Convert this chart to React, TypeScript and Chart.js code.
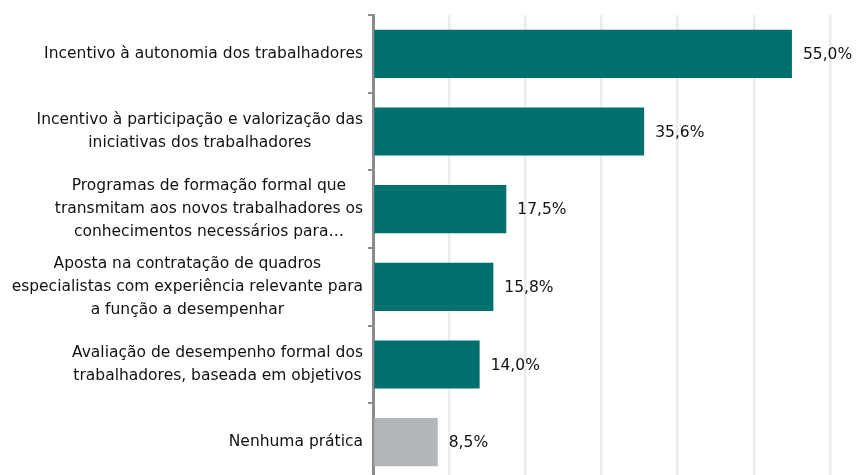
import React, { useEffect, useRef } from "react";
import { Chart, registerables } from "chart.js";

Chart.register(...registerables);

const categories: string[][] = [
  ["Incentivo à autonomia dos trabalhadores"],
  ["Incentivo à participação e valorização das", "iniciativas dos trabalhadores"],
  ["Programas de formação formal que", "transmitam aos novos trabalhadores os", "conhecimentos necessários para…"],
  ["Aposta na contratação de quadros", "especialistas com experiência relevante para", "a função a desempenhar"],
  ["Avaliação de desempenho formal dos", "trabalhadores, baseada em objetivos"],
  ["Nenhuma prática"],
];
const values: number[] = [55.0, 35.6, 17.5, 15.8, 14.0, 8.5];
const barColors: string[] = ["#00706e", "#00706e", "#00706e", "#00706e", "#00706e", "#b4b7b9"];
const xTicks: number[] = [0, 10, 20, 30, 40, 50, 60];

const FONT = "15.5px 'DejaVu Sans', Verdana, sans-serif";
const TEXT = "#111111";

const labelPlugin = {
  id: "customLabels",
  afterDraw(chart: any) {
    const ctx = chart.ctx;
    const yScale = chart.scales.y;
    const left = chart.chartArea.left;
    ctx.save();
    ctx.font = FONT;
    ctx.fillStyle = TEXT;
    ctx.textAlign = "center";
    ctx.textBaseline = "middle";
    const lh = 23;
    categories.forEach((lines, i) => {
      const cy = yScale.getPixelForValue(i);
      const maxW = Math.max(...lines.map((l) => ctx.measureText(l).width));
      const cx = left - 10 - maxW / 2;
      lines.forEach((l, j) => {
        ctx.fillText(l, cx, cy + (j - (lines.length - 1) / 2) * lh);
      });
    });
    // value labels
    const meta = chart.getDatasetMeta(0);
    ctx.textAlign = "left";
    meta.data.forEach((bar: any, i: number) => {
      const txt = values[i].toFixed(1).replace(".", ",") + "%";
      ctx.fillText(txt, bar.x + 11, bar.y + 1);
    });
    ctx.restore();
  },
};

export default function App() {
  const ref = useRef<HTMLCanvasElement | null>(null);
  useEffect(() => {
    if (!ref.current) return;
    const chart = new Chart(ref.current, {
      type: "bar",
      data: {
        labels: categories.map((c) => c.join(" ")),
        datasets: [
          {
            data: values,
            backgroundColor: barColors,
            barPercentage: 0.62,
            categoryPercentage: 1,
          },
        ],
      },
      options: {
        indexAxis: "y",
        animation: false,
        responsive: true,
        maintainAspectRatio: false,
        devicePixelRatio: 1,
        layout: { padding: { top: 15, right: 29, bottom: 1, left: 0 } },
        plugins: { legend: { display: false }, tooltip: { enabled: false } },
        scales: {
          x: {
            min: xTicks[0],
            max: xTicks[xTicks.length - 1],
            afterBuildTicks: (scale: any) => {
              scale.ticks = xTicks.map((v) => ({ value: v }));
            },
            ticks: { display: false },
            grid: { color: "#ececec", lineWidth: 2.5, drawTicks: false },
            border: { display: false },
          },
          y: {
            afterFit: (scale: any) => {
              scale.width = 373;
            },
            ticks: { display: false },
            grid: {
              drawOnChartArea: false,
              drawTicks: true,
              tickLength: 5,
              color: "#8c8c8c",
              lineWidth: 2,
              offset: true,
            },
            border: { display: true, color: "#8c8c8c", width: 3 },
          },
        },
      },
      plugins: [labelPlugin],
    });
    return () => chart.destroy();
  }, []);
  return (
    <div style={{ position: "fixed", left: 0, top: 0, width: 859, height: 475, overflow: "hidden", background: "#fff" }}>
      <div style={{ position: "relative", width: 859, height: 482 }}>
        <canvas ref={ref} />
      </div>
    </div>
  );
}
